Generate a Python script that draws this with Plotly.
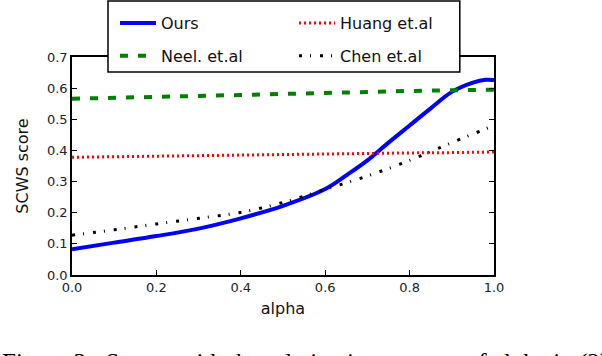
import plotly.graph_objects as go

# alpha grid and scores
alpha_ours = [0.0, 0.1, 0.2, 0.3, 0.4, 0.5, 0.6, 0.65, 0.7, 0.75, 0.8, 0.85, 0.9, 0.95, 0.98, 1.0]
ours = [0.083, 0.104, 0.125, 0.149, 0.182, 0.222, 0.276, 0.320, 0.368, 0.425, 0.480, 0.535, 0.588, 0.618, 0.627, 0.626]

alpha = [0.0, 0.1, 0.2, 0.3, 0.4, 0.5, 0.6, 0.7, 0.8, 0.9, 1.0]
neel = [0.566, 0.568, 0.571, 0.575, 0.578, 0.582, 0.585, 0.588, 0.591, 0.593, 0.595]
huang = [0.378, 0.380, 0.382, 0.383, 0.385, 0.387, 0.388, 0.390, 0.392, 0.393, 0.395]
chen = [0.128, 0.145, 0.164, 0.182, 0.201, 0.233, 0.275, 0.318, 0.368, 0.425, 0.480]

x_ticks = [0.0, 0.2, 0.4, 0.6, 0.8, 1.0]
y_ticks = [0.0, 0.1, 0.2, 0.3, 0.4, 0.5, 0.6, 0.7]

caption = "Figure 3:  Scores with the relative importance of alpha in (2)"

fig = go.Figure()
# two legends side by side -> matplotlib style ncol=2 legend
fig.add_trace(go.Scatter(x=alpha_ours, y=ours, name="Ours", mode="lines", legend="legend", legendgroup="a",
                         line=dict(color="#0000ff", width=4, shape="spline")))
fig.add_trace(go.Scatter(x=alpha, y=neel, name="Neel. et.al", mode="lines", legend="legend", legendgroup="b",
                         line=dict(color="#008000", width=4, dash="8px,10px")))
fig.add_trace(go.Scatter(x=alpha, y=huang, name="Huang et.al", mode="lines", legend="legend2", legendgroup="c",
                         line=dict(color="#ff0000", width=3, dash="2px,3px")))
fig.add_trace(go.Scatter(x=alpha, y=chen, name="Chen et.al", mode="lines", legend="legend2", legendgroup="d",
                         line=dict(color="#000000", width=3, dash="3px,8px,1px,9px", shape="spline")))

axis_common = dict(
    showline=True, linecolor="black", linewidth=1.5, mirror="allticks",
    ticks="inside", ticklen=5, tickcolor="black", tickwidth=1,
    showgrid=False, zeroline=False, tickformat=".1f", automargin=False,
    tickfont=dict(family="DejaVu Sans", size=13, color="#222"),
)

fig.update_xaxes(axis_common, range=[0, 1], tickvals=x_ticks,
                 title=dict(text="alpha", font=dict(family="DejaVu Sans", size=16, color="#111"), standoff=8))
fig.update_yaxes(axis_common, range=[0, 0.7], tickvals=y_ticks,
                 title=dict(text="SCWS score", font=dict(family="DejaVu Sans", size=16, color="#111"), standoff=14))

# legend frame (white, covers the top spine like matplotlib's legend)
fig.add_shape(type="rect", xref="paper", yref="paper", x0=0.0853, x1=0.919, y0=0.931, y1=1.257,
              line=dict(color="black", width=1.5), fillcolor="white", layer="above")

fig.add_annotation(text=caption, xref="paper", yref="paper", x=-0.171, y=-0.33,
                   xanchor="left", yanchor="top", showarrow=False,
                   font=dict(family="Liberation Serif", size=25, color="black"))

legend_common = dict(orientation="v", yanchor="top", xanchor="left", bgcolor="rgba(0,0,0,0)",
                     borderwidth=0, tracegroupgap=9, itemwidth=36,
                     font=dict(family="DejaVu Sans", size=16, color="#111"))

fig.update_layout(
    width=602, height=356,
    margin=dict(l=72, r=108, t=57, b=81, autoexpand=False),
    paper_bgcolor="white", plot_bgcolor="white",
    showlegend=True,
    legend=dict(legend_common, x=(115 - 72) / 422, y=1.234),
    legend2=dict(legend_common, x=(294 - 72) / 422, y=1.234),
)

fig.write_html("out.html", config={"displayModeBar": False},
               post_script="document.body.style.margin='0';")
